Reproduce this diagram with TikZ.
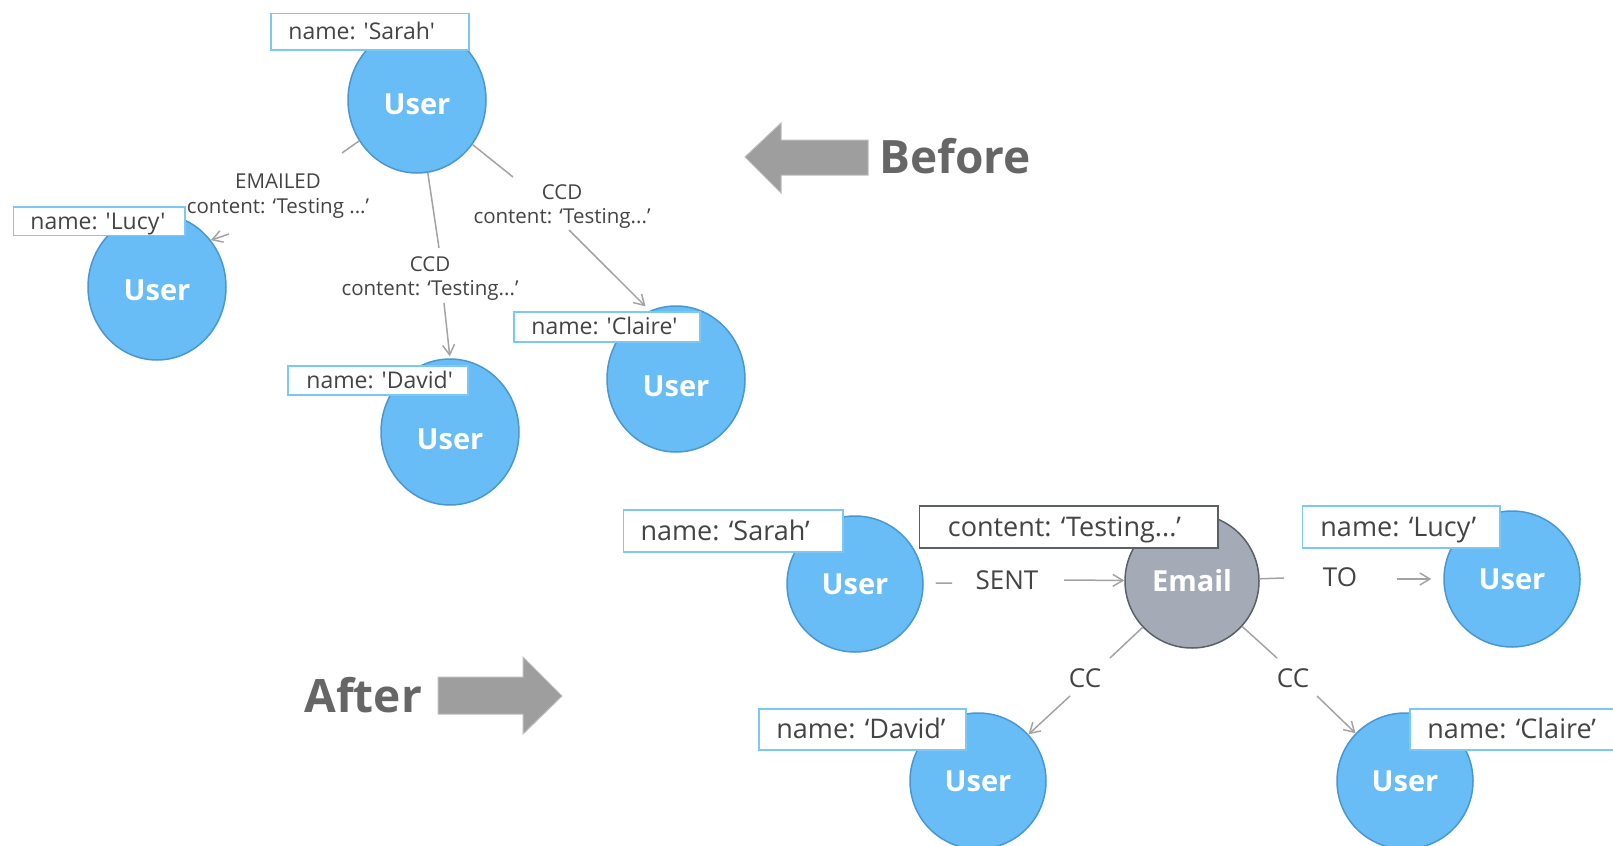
\documentclass[tikz,border=0pt]{standalone}
\usepackage{fontspec}
\newfontfamily\osans{Open Sans}
\usetikzlibrary{shapes.geometric,arrows.meta}

\definecolor{userfill}{HTML}{68BDF6}
\definecolor{userdraw}{HTML}{4A97D0}
\definecolor{emailfill}{HTML}{A5ABB6}
\definecolor{emaildraw}{HTML}{5B5F66}
\definecolor{boxdraw}{HTML}{7CC8F2}
\definecolor{edgecol}{HTML}{A3A3A3}
\definecolor{labelcol}{HTML}{444444}
\definecolor{bigarrow}{HTML}{9E9E9E}
\definecolor{bigarrowdraw}{HTML}{BDBDBD}
\definecolor{bigtext}{HTML}{666666}

\begin{document}
\begin{tikzpicture}[x=0.5pt,y=-0.5pt,
  usertop/.style={ellipse, minimum width=69pt, minimum height=73pt, inner sep=0pt,
    fill=userfill, draw=userdraw, line width=0.75pt},
  userbot/.style={circle, minimum size=68pt, inner sep=0pt,
    fill=userfill, draw=userdraw, line width=0.75pt},
  emailnode/.style={circle, minimum size=67pt, inner sep=0pt,
    fill=emailfill, draw=emaildraw, line width=0.75pt},
  nodetext/.style={font=\osans\bfseries\fontsize{14.5}{17}\selectfont, text=white,
    inner sep=0pt, text height=10.35pt, text depth=0pt},
  namebox/.style={draw=boxdraw, fill=white, line width=0.75pt, inner sep=0pt, anchor=north west},
  contentbox/.style={namebox, draw=emaildraw},
  nametop/.style={font=\osans\fontsize{11.5}{14}\selectfont, text=labelcol,
    inner sep=0pt, text height=8.2pt, text depth=0pt, anchor=west},
  namebot/.style={font=\osans\fontsize{13.5}{16}\selectfont, text=labelcol,
    inner sep=0pt, text height=9.64pt, text depth=0pt, anchor=west},
  reltop/.style={font=\osans\fontsize{10.25}{12.5}\selectfont, text=labelcol,
    inner sep=0pt, text height=7.32pt, text depth=0pt},
  relbot/.style={font=\osans\fontsize{13}{15}\selectfont, text=labelcol,
    inner sep=0pt, text height=9.28pt, text depth=0pt},
  bigtxt/.style={font=\osans\bfseries\fontsize{23}{27}\selectfont, text=bigtext,
    inner sep=0pt, anchor=base west},
  edge/.style={draw=edgecol, line width=0.75pt},
  arrowedge/.style={edge, -{Straight Barb[length=5pt,width=6pt]}},
  bigarrowshape/.style={fill=bigarrow, draw=bigarrowdraw, line width=0.5pt}
]
\useasboundingbox (0,0) rectangle (1613,846);

% ---------- first model: relationships carry the content ----------
\node[usertop] (sarah)  at (417,100) {};
\node[usertop] (lucy)   at (157,287) {};
\node[usertop] (david)  at (450,432) {};
\node[usertop] (claire) at (676,379) {};

\node[nodetext] (sarahu)  at ([yshift=-2pt]sarah.center)    {User};
\node[nodetext] (lucyu)   at ([yshift=-1.5pt]lucy.center)   {User};
\node[nodetext] (davidu)  at ([yshift=-3.5pt]david.center)  {User};
\node[nodetext] (claireu) at ([yshift=-3.5pt]claire.center) {User};

% EMAILED
\coordinate (e1a) at (342,153);
\coordinate (e1b) at (229,234);
\draw[edge] (sarah) -- (e1a);
\draw[arrowedge] (e1b) -- (lucy.41);
\node[reltop] (e1t) at (278,181) {EMAILED};
\node[reltop] (e1c) at (278,206) {content: ‘Testing ...’};

% CCD to David
\coordinate (e2a) at (439,248);
\coordinate (e2b) at (444,303);
\draw[edge] (sarah) -- (e2a);
\draw[arrowedge, shorten >=1pt] (e2b) -- (david.north);
\node[reltop] (e2t) at (430,264) {CCD};
\node[reltop] (e2c) at (430,288) {content: ‘Testing...’};

% CCD to Claire
\coordinate (e3a) at (513,177);
\coordinate (e3b) at (569,230);
\draw[edge] (sarah) -- (e3a);
\draw[arrowedge, shorten >=3pt] (e3b) -- (claire.111);
\node[reltop] (e3t) at (562,192) {CCD};
\node[reltop] (e3c) at (562,216) {content: ‘Testing...’};

% property boxes
\node[namebox, minimum width=99pt, minimum height=18.3pt] (sarahbox) at (270,12.7) {};
\node[nametop] (sarahname) at ([xshift=9pt]sarahbox.west) {name: 'Sarah'};
\node[namebox, minimum width=85.75pt, minimum height=14.25pt] (lucybox) at (12.5,206) {};
\node[nametop] (lucyname) at ([xshift=8.75pt]lucybox.west) {name: 'Lucy'};
\node[namebox, minimum width=90pt, minimum height=14.5pt] (davidbox) at (287,365) {};
\node[nametop] (davidname) at ([xshift=9.5pt]davidbox.west) {name: 'David'};
\node[namebox, minimum width=93pt, minimum height=15pt] (clairebox) at (513,311) {};
\node[nametop] (clairename) at ([xshift=9pt]clairebox.west) {name: 'Claire'};

% Before marker
\draw[bigarrowshape] (745,157) -- (781,123) -- (781,140) -- (868,140) -- (868,175)
  -- (781,175) -- (781,193) -- cycle;
\node[bigtxt] (before) at (879,173.3) {Before};

% ---------- second model: the email becomes a node ----------
\node[userbot]   (bsarah)  at (855,584) {};
\node[emailnode] (email)   at (1192,581) {};
\node[userbot]   (blucy)   at (1512,579) {};
\node[userbot]   (bdavid)  at (978,781) {};
\node[userbot]   (bclaire) at (1405,781) {};

\node[nodetext] (bsarahu)  at (bsarah.center)  {User};
\node[nodetext] (emailu)   at (email.center)   {Email};
\node[nodetext] (blucyu)   at (blucy.center)   {User};
\node[nodetext] (bdavidu)  at (bdavid.center)  {User};
\node[nodetext] (bclaireu) at (bclaire.center) {User};

% SENT
\coordinate (s1a) at (952,583);
\coordinate (s1b) at (1064,580);
\draw[edge, shorten <=6pt] (bsarah) -- (s1a);
\draw[arrowedge] (s1b) -- (email);
\node[relbot] (s1t) at (1007,580) {SENT};

% TO
\coordinate (t1a) at (1284,578);
\coordinate (t1b) at (1397,579);
\draw[edge] (email) -- (t1a);
\draw[arrowedge, shorten >=6pt] (t1b) -- (blucy);
\node[relbot] (t1t) at (1340,577) {TO};

% CC to David
\coordinate (c1a) at (1110,658);
\coordinate (c1b) at (1070,696);
\draw[edge] (email) -- (c1a);
\draw[arrowedge] (c1b) -- (bdavid);
\node[relbot] (c1t) at (1085,678) {CC};

% CC to Claire
\coordinate (c2a) at (1277,658);
\coordinate (c2b) at (1317,696);
\draw[edge] (email) -- (c2a);
\draw[arrowedge] (c2b) -- (bclaire);
\node[relbot] (c2t) at (1293,678) {CC};

% property boxes
\node[namebox, minimum width=109.7pt, minimum height=21pt] (bsarahbox) at (622.6,509) {};
\node[namebot] (bsarahname) at ([xshift=8.75pt]bsarahbox.west) {name: ‘Sarah’};
\node[contentbox, minimum width=149.25pt, minimum height=21pt] (emailbox) at (918.5,505) {};
\node[namebot] (emailcontent) at ([xshift=14.5pt]emailbox.west) {content: ‘Testing...’};
\node[namebox, minimum width=98.75pt, minimum height=21pt] (blucybox) at (1301.5,505) {};
\node[namebot] (blucyname) at ([xshift=9.25pt]blucybox.west) {name: ‘Lucy’};
\node[namebox, minimum width=103.5pt, minimum height=20.5pt] (bdavidbox) at (758,708) {};
\node[namebot] (bdavidname) at ([xshift=9pt]bdavidbox.west) {name: ‘David’};
\node[namebox, minimum width=110pt, minimum height=20.5pt] (bclairebox) at (1409,708) {};
\node[namebot] (bclairename) at ([xshift=9pt]bclairebox.west) {name: ‘Claire’};

% After marker
\node[bigtxt] (after) at (304,712.7) {After};
\draw[bigarrowshape] (438,677) -- (523,677) -- (523,657) -- (562,696) -- (523,734)
  -- (523,714) -- (438,714) -- cycle;
\end{tikzpicture}
\end{document}
